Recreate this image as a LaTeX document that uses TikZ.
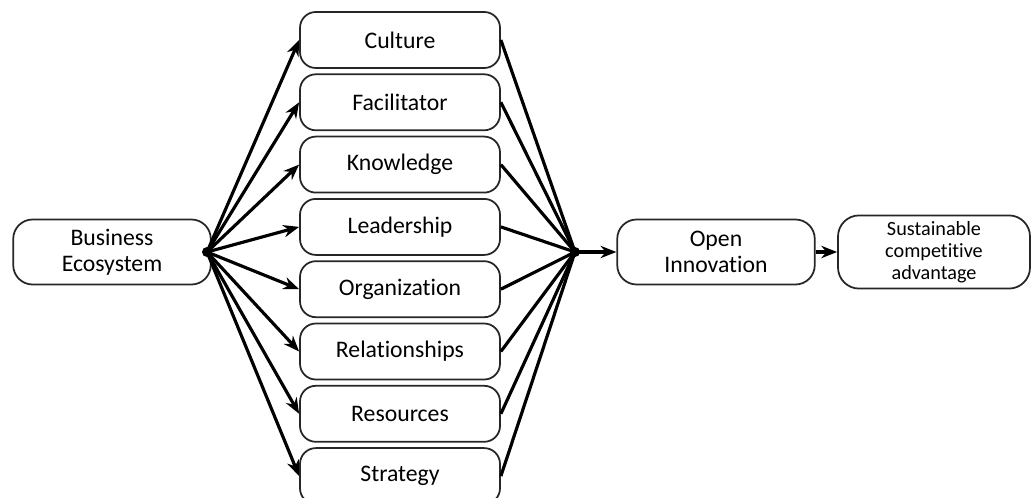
\documentclass[tikz,border=0pt]{standalone}
\usepackage{fontspec}
\setmainfont[Ligatures=NoCommon]{Carlito}
\usepackage{tikz}
\usetikzlibrary{arrows.meta}

\tikzset{
  factor/.style={draw=black!85,line width=1pt,rounded corners=9pt,minimum width=4cm,minimum height=1.12cm,font=\fontsize{13.5}{15}\selectfont},
  mainbox/.style={draw=black!85,line width=1pt,rounded corners=11pt,minimum width=3.95cm,minimum height=1.3cm,align=center,font=\fontsize{13.5}{15}\selectfont},
  link/.style={black,line width=1.8pt},
  arr/.style={link,-{Stealth[length=9pt,width=7pt]}},
  hub/.style={circle,fill=black,inner sep=0pt,minimum size=0.2cm}
}

\begin{document}
\begin{tikzpicture}
            \useasboundingbox (0,0) rectangle (20.64,-9.96);
            \clip (0,0) rectangle (20.64,-9.96);

            \node[mainbox] (eco) at (2.24,-5.04){Business\\Ecosystem};
            \node[hub] (left) at (4.14,-5.04){};

            \node[factor] (culture) at (8,-0.8){Culture};
            \node[factor] (facil) at (8,-2.046){Facilitator};
            \node[factor] (know) at (8,-3.292){Knowledge};
            \node[factor] (lead) at (8,-4.538){Leadership};
            \node[factor] (org) at (8,-5.784){Organization};
            \node[factor] (rel) at (8,-7.03){Relationships};
            \node[factor] (res) at (8,-8.276){Resources};
            \node[factor] (strat) at (8,-9.522){Strategy};

            \node[hub] (right) at (11.5,-5.04){};
            \node[mainbox] (open) at (14.32,-5.04){Open\\Innovation};
            \node[mainbox,minimum width=3.84cm,rounded corners=12pt,font=\fontsize{11.5}{12.5}\selectfont] (sca) at (18.68,-5.04){Sustainable\\competitive\\advantage};

            \draw[arr] (left.center) -- (culture.west);
            \draw[arr] (left.center) -- (facil.west);
            \draw[arr] (left.center) -- (know.west);
            \draw[arr] (left.center) -- (lead.west);
            \draw[arr] (left.center) -- (org.west);
            \draw[arr] (left.center) -- (rel.west);
            \draw[arr] (left.center) -- (res.west);
            \draw[arr] (left.center) -- (strat.west);

            \draw[link] (culture.east) -- (right.center);
            \draw[link] (facil.east) -- (right.center);
            \draw[link] (know.east) -- (right.center);
            \draw[link] (lead.east) -- (right.center);
            \draw[link] (org.east) -- (right.center);
            \draw[link] (rel.east) -- (right.center);
            \draw[link] (res.east) -- (right.center);
            \draw[link] (strat.east) -- (right.center);

            \draw[arr] (right.center) -- (open.west);
            \draw[arr] (open.east) -- (sca.west);
        \end{tikzpicture}
\end{document}
